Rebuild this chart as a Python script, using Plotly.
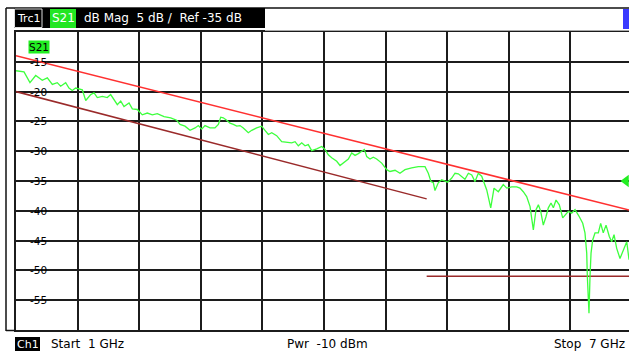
import plotly.graph_objects as go

# ---- measured S21 transmission, 1 GHz .. 7 GHz ----
freq_ghz = [
    1.000, 1.078, 1.136, 1.192, 1.256, 1.305, 1.354, 1.402, 1.435, 1.484,
    1.516, 1.548, 1.581, 1.614, 1.646, 1.679, 1.728, 1.760, 1.792, 1.841,
    1.889, 1.922, 1.955, 1.987, 2.020, 2.052, 2.101, 2.133, 2.182, 2.230,
    2.279, 2.328, 2.376, 2.442, 2.507,
    2.565, 2.598, 2.646, 2.695, 2.744, 2.776, 2.809, 2.841, 2.890, 2.938,
    2.971, 2.994, 3.019, 3.052, 3.084, 3.117, 3.150, 3.182, 3.214, 3.263,
    3.296, 3.344, 3.393, 3.425, 3.458, 3.491, 3.539, 3.588, 3.637, 3.685,
    3.718, 3.750, 3.783, 3.815, 3.847, 3.880, 3.929, 3.978, 4.010, 4.026,
    4.042, 4.075, 4.124, 4.156, 4.188, 4.237, 4.270, 4.302, 4.334, 4.360,
    4.393, 4.416, 4.448, 4.480, 4.513, 4.562, 4.611, 4.643, 4.692, 4.740,
    4.789, 4.854, 4.919, 4.984, 5.016, 5.042, 5.065, 5.081, 5.113, 5.146,
    5.179, 5.205, 5.244, 5.276, 5.308, 5.341, 5.373, 5.406, 5.439, 5.471,
    5.503, 5.536,
    5.585, 5.624, 5.656, 5.698, 5.746, 5.780, 5.828, 5.877, 5.909, 5.941,
    5.974, 6.007, 6.039, 6.065, 6.088, 6.111, 6.136, 6.162, 6.185, 6.211,
    6.234, 6.260, 6.292, 6.325, 6.348, 6.380, 6.413, 6.445, 6.487, 6.520,
    6.542, 6.559, 6.565, 6.575, 6.581, 6.591, 6.601, 6.617, 6.640, 6.672,
    6.695, 6.720, 6.747, 6.779, 6.802, 6.825, 6.851, 6.883, 6.915, 6.949,
    6.971,
]
s21_db = [
    -16.5, -16.7, -18.5, -17.3, -18.1, -17.7, -18.8, -18.5, -19.1, -18.5,
    -19.4, -19.8, -19.4, -19.5, -19.7, -21.5, -20.5, -20.2, -21.0, -20.8,
    -21.0, -20.5, -21.3, -22.2, -21.6, -22.5, -21.9, -22.9, -23.0, -23.9,
    -23.6, -23.9, -23.7, -24.2, -24.4,
    -24.8, -25.5, -25.8, -26.5, -26.1, -25.7, -26.3, -25.7, -26.1, -26.1,
    -25.5, -24.3, -24.4, -24.8, -25.3, -25.5, -25.8, -25.7, -26.1, -26.9,
    -26.5, -26.1, -25.8, -26.5, -27.2, -26.9, -27.4, -28.4, -28.5, -28.6,
    -28.4, -29.1, -28.6, -29.1, -28.9, -29.9, -29.6, -29.2, -29.7, -30.3,
    -30.6, -31.1, -31.7, -32.4, -32.0, -31.3, -30.3, -30.7, -30.4, -30.1,
    -29.7, -30.9, -31.3, -31.0, -31.3, -32.0, -33.1, -33.4, -33.2, -33.7,
    -33.1, -32.8, -32.6, -32.6, -33.7, -35.1, -35.3, -36.6, -35.3, -34.8,
    -35.1, -35.2, -34.5, -33.7, -33.8, -34.2, -34.7, -33.7, -34.0, -35.1,
    -33.7, -34.2,
    -36.5, -39.5, -36.2, -36.8, -35.6, -36.2, -36.0, -36.0, -36.2, -36.8,
    -37.6, -39.3, -43.2, -39.8, -39.0, -40.1, -42.4, -41.0, -39.5, -38.7,
    -39.5, -38.2, -39.0, -41.2, -40.7, -40.1, -40.4, -39.8, -41.0, -42.1,
    -43.7, -47.1, -51.0, -54.4, -57.2, -51.0, -47.1, -44.9, -43.7, -43.7,
    -42.1, -43.7, -42.4, -44.3, -45.2, -44.0, -46.3, -48.0, -46.6, -45.2,
    -48.2,
]

# ---- limit lines ----
upper_limit_f = [1.0, 7.0]
upper_limit_db = [-14.0, -40.0]
lower_limit_f = [1.0, 5.0]
lower_limit_db = [-20.0, -38.0]
floor_limit_f = [5.0, 7.0]
floor_limit_db = [-51.0, -51.0]

# ---- axis scale / labels ----
start_ghz, stop_ghz, div_ghz = 1.0, 7.0, 0.6
y_top, y_bottom, div_db = -10.0, -60.0, 5.0
ref_level_db = -35.0
y_tick_values = [-15, -20, -25, -30, -35, -40, -45, -50, -55]
y_tick_labels = ["-15", "-20", "-25", "-30", "-35", "-40", "-45", "-50", "-55"]

header_trace = "Trc1"
header_param = "S21"
header_format = "dB Mag\u00a0\u00a05 dB /\u00a0\u00a0Ref -35 dB"
footer_channel = "Ch1"
footer_start = "Start\u00a0\u00a01 GHz"
footer_power = "Pwr\u00a0\u00a0-10 dBm"
footer_stop = "Stop\u00a0\u00a07 GHz"

# ---- page geometry ----
W, H = 629, 352
ML, MR, MT, MB = 16, 0, 32, 22
PW = W - ML - MR
PH = H - MT - MB
# visible sweep span: the grid's right edge falls just past the page edge
visible_stop = start_ghz + (W - ML) / (PW + 3) * (stop_ghz - start_ghz)


def px(xp):
    return (xp - ML) / PW


def py(yp):
    return (H - MB - yp) / PH


GRID = "#1c1c1c"
TXT_FONT = "DejaVu Sans, Verdana, sans-serif"
TXT_SIZE = 12
TRACE_GREEN = "#3dff3d"
LIMIT_RED = "#ff3030"
LIMIT_DARK = "#9a2a2a"

fig = go.Figure()

fig.add_trace(go.Scatter(x=upper_limit_f, y=upper_limit_db, mode="lines",
                         line=dict(color=LIMIT_RED, width=1.5), hoverinfo="skip"))
fig.add_trace(go.Scatter(x=lower_limit_f, y=lower_limit_db, mode="lines",
                         line=dict(color=LIMIT_DARK, width=1.5), hoverinfo="skip"))
fig.add_trace(go.Scatter(x=floor_limit_f, y=floor_limit_db, mode="lines",
                         line=dict(color=LIMIT_DARK, width=1.5), hoverinfo="skip"))
fig.add_trace(go.Scatter(x=freq_ghz, y=s21_db, mode="lines",
                         line=dict(color=TRACE_GREEN, width=1.3)))
# reference level marker on the right edge
fig.add_trace(go.Scatter(x=[start_ghz + (626 - ML) / (PW + 3) * (stop_ghz - start_ghz)],
                         y=[ref_level_db], mode="markers",
                         marker=dict(symbol="triangle-left", size=11, color="#22ee22",
                                     line=dict(width=0)),
                         cliponaxis=False))

shapes = []
annotations = []

# white patches behind the in-grid scale labels (gridlines hidden, traces stay on top)
for v, lab in zip(y_tick_values, y_tick_labels):
    shapes.append(dict(type="rect", layer="between", xref="paper", yref="y",
                       x0=px(25), x1=px(48.5), y0=v - 0.9, y1=v + 0.9,
                       fillcolor="white", line=dict(width=0)))
    annotations.append(dict(xref="paper", yref="y", x=px(38), y=v, text=lab,
                            showarrow=False, xanchor="center", yanchor="middle",
                            font=dict(family=TXT_FONT, size=10.5, color="black")))

# outer frame lines
shapes.append(dict(type="line", xref="paper", yref="paper", x0=px(6), x1=px(6),
                   y0=py(8), y1=py(331), line=dict(color="#111", width=1.5)))
shapes.append(dict(type="line", xref="paper", yref="paper", x0=px(6), x1=px(629),
                   y0=py(8), y1=py(8), line=dict(color="#111", width=1.5)))
shapes.append(dict(type="line", xref="paper", yref="paper", x0=px(6), x1=px(16),
                   y0=py(330.5), y1=py(330.5), line=dict(color="#111", width=1.5)))

# header bar
shapes.append(dict(type="rect", xref="paper", yref="paper", x0=px(14), x1=px(265),
                   y0=py(28), y1=py(8), fillcolor="black", line=dict(width=0)))
shapes.append(dict(type="rect", xref="paper", yref="paper", x0=px(14.5), x1=px(42),
                   y0=py(27.5), y1=py(9), fillcolor="black",
                   line=dict(color="#dddddd", width=1)))
shapes.append(dict(type="rect", xref="paper", yref="paper", x0=px(50), x1=px(76),
                   y0=py(28), y1=py(9), fillcolor="#22e622", line=dict(width=0)))
shapes.append(dict(type="rect", xref="paper", yref="paper", x0=px(623), x1=px(632),
                   y0=py(29), y1=py(9), fillcolor="#3a3aff", line=dict(width=0)))
shapes.append(dict(type="line", xref="paper", yref="paper", x0=px(265), x1=px(629),
                   y0=py(30.5), y1=py(30.5), line=dict(color="#aaaaaa", width=1)))

head_y = py(18.5)
annotations += [
    dict(xref="paper", yref="paper", x=px(28.5), y=head_y, text=header_trace,
         showarrow=False, xanchor="center", yanchor="middle",
         font=dict(family=TXT_FONT, size=11, color="white")),
    dict(xref="paper", yref="paper", x=px(63), y=head_y, text=header_param,
         showarrow=False, xanchor="center", yanchor="middle",
         font=dict(family=TXT_FONT, size=TXT_SIZE, color="white")),
    dict(xref="paper", yref="paper", x=px(82), y=head_y, text=header_format,
         showarrow=False, xanchor="left", yanchor="middle",
         font=dict(family=TXT_FONT, size=TXT_SIZE, color="white")),
    # trace tag inside the grid
    dict(xref="paper", yref="paper", x=px(28), y=py(40), text=header_param,
         showarrow=False, xanchor="left", yanchor="top", bgcolor="#22ee22",
         borderpad=0, font=dict(family=TXT_FONT, size=10.5, color="black")),
]

# footer
shapes.append(dict(type="rect", xref="paper", yref="paper", x0=px(15), x1=px(40),
                   y0=py(351), y1=py(337), fillcolor="black", line=dict(width=0)))
foot_y = py(344)
annotations += [
    dict(xref="paper", yref="paper", x=px(27.5), y=foot_y, text=footer_channel,
         showarrow=False, xanchor="center", yanchor="middle",
         font=dict(family=TXT_FONT, size=11, color="white")),
    dict(xref="paper", yref="paper", x=px(49), y=foot_y, text=footer_start,
         showarrow=False, xanchor="left", yanchor="middle",
         font=dict(family=TXT_FONT, size=TXT_SIZE, color="black")),
    dict(xref="paper", yref="paper", x=px(285), y=foot_y, text=footer_power,
         showarrow=False, xanchor="left", yanchor="middle",
         font=dict(family=TXT_FONT, size=TXT_SIZE, color="black")),
    dict(xref="paper", yref="paper", x=px(627), y=foot_y, text=footer_stop,
         showarrow=False, xanchor="right", yanchor="middle",
         font=dict(family=TXT_FONT, size=TXT_SIZE, color="black")),
]

fig.update_layout(
    width=W, height=H,
    margin=dict(l=ML, r=MR, t=MT, b=MB, pad=0),
    paper_bgcolor="white", plot_bgcolor="white",
    showlegend=False,
    shapes=shapes, annotations=annotations,
    xaxis=dict(range=[start_ghz, visible_stop], tick0=start_ghz, dtick=div_ghz,
               showgrid=True, gridcolor=GRID, gridwidth=1.6,
               showticklabels=False, ticks="", zeroline=False,
               showline=True, linecolor=GRID, linewidth=1.6, mirror=True),
    yaxis=dict(range=[y_bottom, y_top], tick0=y_bottom, dtick=div_db,
               showgrid=True, gridcolor=GRID, gridwidth=1.6,
               showticklabels=False, ticks="", zeroline=False,
               showline=True, linecolor=GRID, linewidth=1.6, mirror=False),
)

fig.write_html("out.html")
